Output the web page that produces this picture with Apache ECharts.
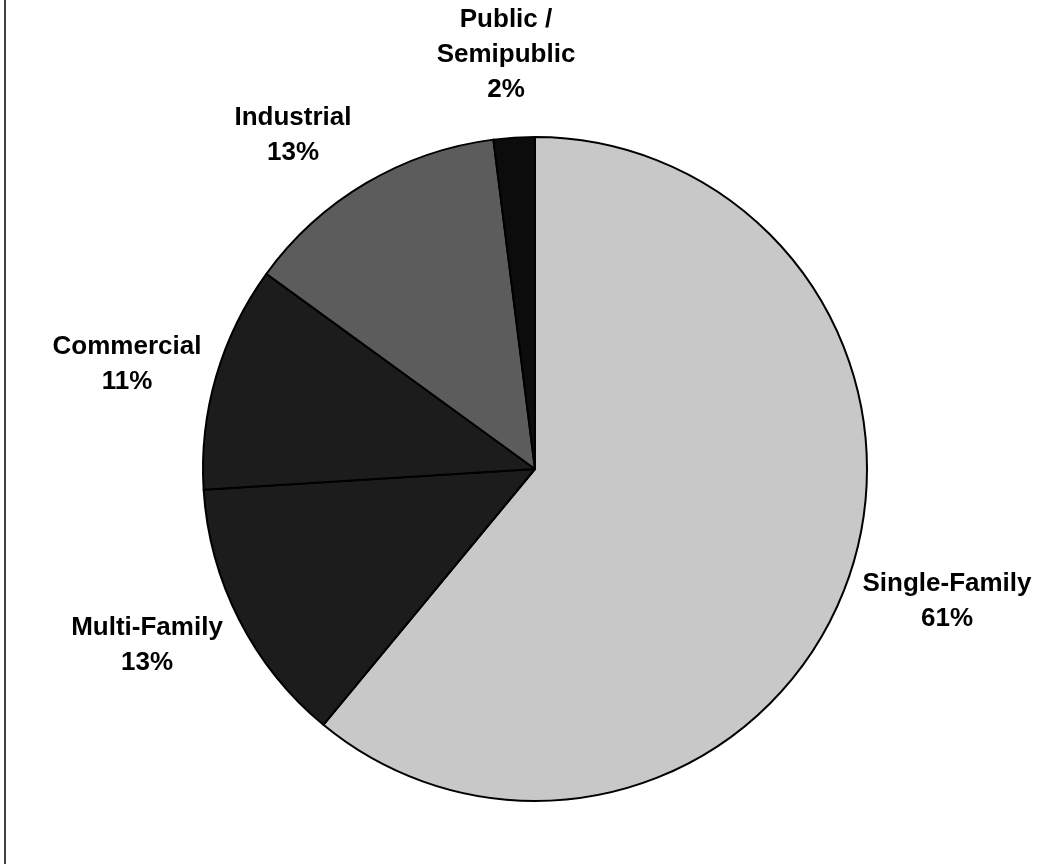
<!DOCTYPE html>
<html>
<head>
<meta charset="utf-8">
<script src="https://cdn.jsdelivr.net/npm/echarts@6/dist/echarts.min.js"></script>
<style>
  html, body { margin: 0; padding: 0; background: #fff; }
  #pie { width: 1052px; height: 864px; }
</style>
</head>
<body>
<div id="pie"></div>
<script>
// land use shares, percent
const categories = ['Single-Family', 'Multi-Family', 'Commercial', 'Industrial', 'Public /\nSemipublic'];
const shares = [61, 13, 11, 13, 2];
const sliceColors = ['#c8c8c8', '#1c1c1c', '#1c1c1c', '#5c5c5c', '#0c0c0c'];

// label block centres (px)
const labelCenters = [[947, 601], [147, 645], [127, 364], [293, 135], [506, 55]];

const pieData = [];
for (let i = 0; i < categories.length; i++) {
  pieData.push({ name: categories[i], value: shares[i], itemStyle: { color: sliceColors[i] } });
}

const chart = echarts.init(document.getElementById('pie'), null, { renderer: 'canvas' });
chart.setOption({
  animation: false,
  backgroundColor: '#fff',
  graphic: [{
    type: 'rect',
    shape: { x: 4, y: 0, width: 2, height: 864 },
    style: { fill: '#404040' }
  }],
  series: [{
    type: 'pie',
    center: [535, 469],
    radius: 332,
    startAngle: 90,
    clockwise: true,
    avoidLabelOverlap: false,
    data: pieData,
    itemStyle: {
      borderColor: '#000',
      borderWidth: 2
    },
    emphasis: { disabled: true },
    label: {
      show: true,
      position: 'outside',
      formatter: function (p) { return p.name + '\n' + p.value + '%'; },
      fontFamily: '"Liberation Sans", Arial, sans-serif',
      fontWeight: 'bold',
      fontSize: 26,
      lineHeight: 35,
      color: '#000'
    },
    labelLine: { show: false },
    labelLayout: function (params) {
      const c = labelCenters[params.dataIndex];
      return { x: c[0], y: c[1], align: 'center', verticalAlign: 'middle' };
    }
  }]
});
</script>
</body>
</html>
